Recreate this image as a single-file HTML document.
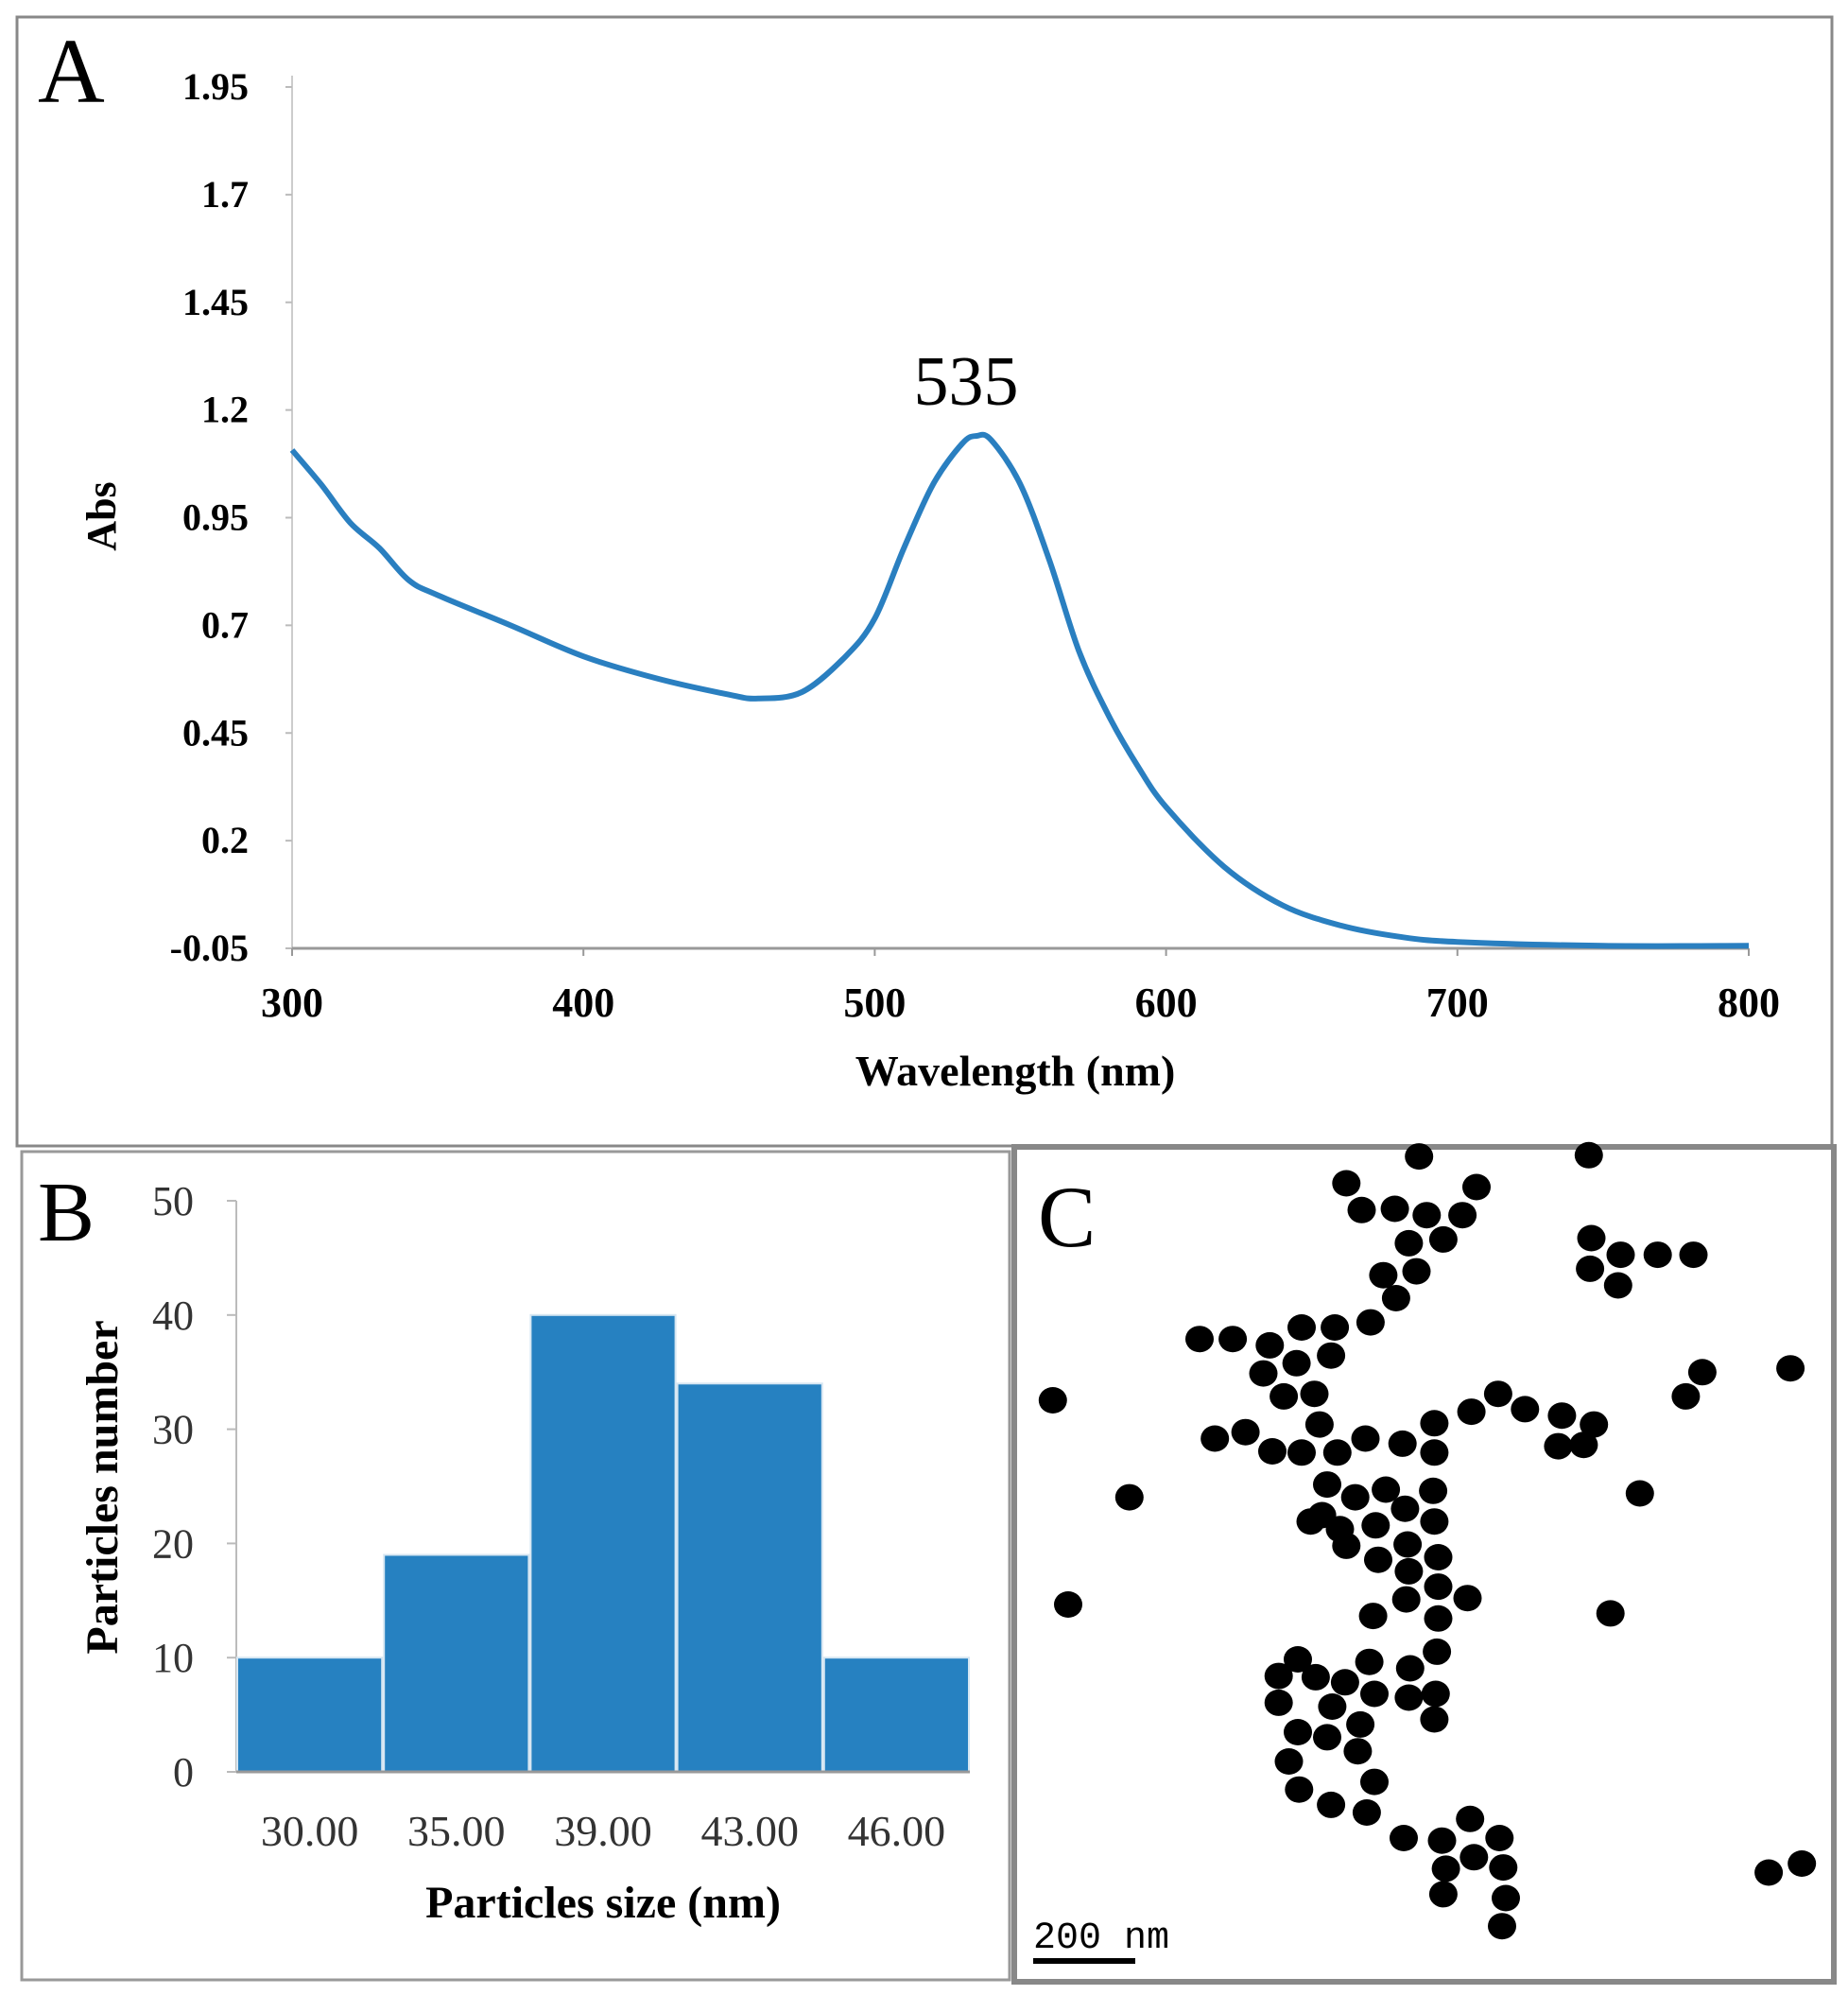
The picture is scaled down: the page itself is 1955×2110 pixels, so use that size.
<!DOCTYPE html>
<html><head><meta charset="utf-8"><style>
html,body{margin:0;padding:0;background:#fff}
svg{display:block}
text{font-family:"Liberation Serif",serif}
</style></head><body>
<svg id="fig" width="1955" height="2110" viewBox="0 0 1955 2110">
<rect x="18" y="18" width="1920" height="1194" fill="none" stroke="#888" stroke-width="3"/>
<rect x="23" y="1218" width="1045" height="876" fill="none" stroke="#999" stroke-width="3"/>
<g id="gA"></g>
<g id="gB"></g>
<g id="gC"></g>
<text x="40" y="108" font-size="98">A</text>
<text x="40" y="1312" font-size="90">B</text>
<text x="1098" y="1318" font-size="92">C</text>
</svg>
<script>
const NS="http://www.w3.org/2000/svg";
function mk(p,tag,at,txt){const e=document.createElementNS(NS,tag);for(const k in at)e.setAttribute(k,at[k]);if(txt!==undefined)e.textContent=txt;p.appendChild(e);return e;}

// Panel A data
const wavelengths=[300,310,320,330,340,350,375,400,425,450,460,475,490,500,510,520,530,535,540,550,560,570,580,590,600,620,640,660,680,700,750,800];
const absValues=[1.107,1.027,0.938,0.879,0.805,0.77,0.70,0.628,0.577,0.539,0.53,0.545,0.628,0.716,0.879,1.027,1.122,1.14,1.13,1.027,0.85,0.642,0.494,0.376,0.278,0.139,0.05,0.003,-0.023,-0.035,-0.044,-0.044];
const aYTicks=["1.95","1.7","1.45","1.2","0.95","0.7","0.45","0.2","-0.05"];
const aXTicks=[300,400,500,600,700,800];

// Panel B data
const sizeCats=["30.00","35.00","39.00","43.00","46.00"];
const particleCounts=[10,19,40,34,10];
const bYTicks=[0,10,20,30,40,50];

// Panel C particle positions (image content)
const dots=[[1112,906],[1245,905],[1055,927],[1157,930],[1067,948],[1093,947],[1118,952],[1146,952],[1104,974],[1131,971],[1084,999],[1110,996],[1247,970],[1270,983],[1299,983],[1327,983],[1246,994],[1268,1007],[1094,1017],[1074,1036],[940,1049],[966,1049],[995,1054],[1020,1040],[1046,1040],[1016,1068],[1043,1062],[990,1076],[1006,1094],[1030,1092],[825,1097],[1334,1075],[1321,1094],[1403,1072],[1174,1092],[1153,1106],[1195,1104],[1224,1109],[1249,1116],[1221,1133],[1241,1132],[1124,1115],[1034,1116],[952,1127],[976,1122],[997,1137],[1020,1138],[1048,1138],[1070,1127],[1099,1131],[1124,1138],[1040,1163],[1062,1173],[1086,1167],[1123,1168],[885,1173],[1285,1170],[1036,1187],[1027,1192],[1050,1198],[1078,1195],[1101,1182],[1124,1192],[1055,1211],[1080,1222],[1103,1210],[1127,1220],[1104,1231],[1127,1243],[1102,1253],[1150,1252],[1076,1266],[1127,1268],[837,1257],[1262,1264],[1126,1294],[1073,1302],[1105,1307],[1017,1300],[1002,1313],[1031,1314],[1054,1318],[1077,1327],[1104,1330],[1125,1327],[1002,1334],[1044,1337],[1066,1351],[1124,1347],[1017,1357],[1040,1361],[1064,1372],[1010,1380],[1077,1396],[1018,1402],[1043,1414],[1071,1420],[1100,1440],[1152,1425],[1130,1442],[1175,1440],[1155,1455],[1178,1463],[1133,1464],[1131,1484],[1180,1487],[1177,1509],[1386,1467],[1412,1460]];

// ---- Panel A ----
const gA=document.getElementById('gA');
const ax0=309,ax1=1850,ay0=1003,ay1=92;
const xA=v=>ax0+(v-300)/500*(ax1-ax0);
const yA=v=>ay0-(v+0.05)/2.0*(ay0-ay1);
const yaxA=mk(gA,'line',{x1:ax0,y1:ay1-12,x2:ax0,y2:ay0,stroke:'#ccc','stroke-width':2});

const xaxA=mk(gA,'line',{x1:ax0,y1:ay0,x2:ax1,y2:ay0,stroke:'#999','stroke-width':3});

aYTicks.forEach(t=>{const v=parseFloat(t),y=yA(v);
 mk(gA,'line',{x1:ax0-7,y1:y,x2:ax0,y2:y,stroke:'#bbb','stroke-width':2});
 const e=mk(gA,'text',{x:263,y:y+13,'font-size':40,'font-weight':'bold','text-anchor':'end'},t);
 });
aXTicks.forEach(t=>{const x=xA(t);
 mk(gA,'line',{x1:x,y1:ay0,x2:x,y2:ay0+8,stroke:'#999','stroke-width':2});
 const e=mk(gA,'text',{x:x,y:1075,'font-size':44,'font-weight':'bold','text-anchor':'middle'},t);
 });
const pts=wavelengths.map((w,i)=>[xA(w),yA(absValues[i])]);
let d='M'+pts[0][0].toFixed(1)+','+pts[0][1].toFixed(1);
for(let i=0;i<pts.length-1;i++){
 const p0=pts[Math.max(0,i-1)],p1=pts[i],p2=pts[i+1],p3=pts[Math.min(pts.length-1,i+2)];
 const c1=[p1[0]+(p2[0]-p0[0])/6,p1[1]+(p2[1]-p0[1])/6];
 const c2=[p2[0]-(p3[0]-p1[0])/6,p2[1]-(p3[1]-p1[1])/6];
 d+='C'+c1[0].toFixed(1)+','+c1[1].toFixed(1)+' '+c2[0].toFixed(1)+','+c2[1].toFixed(1)+' '+p2[0].toFixed(1)+','+p2[1].toFixed(1);
}
const ln=mk(gA,'path',{d:d,fill:'none',stroke:'#2a7fc0','stroke-width':6,'stroke-linejoin':'round'});

let e=mk(gA,'text',{x:1074,y:1148,'font-size':46,'font-weight':'bold','text-anchor':'middle'},'Wavelength (nm)');

e=mk(gA,'text',{x:122,y:546,'font-size':44,'font-weight':'bold','text-anchor':'middle',transform:'rotate(-90 122 546)'},'Abs');

e=mk(gA,'text',{x:1022,y:428,'font-size':74,'text-anchor':'middle'},'535');


// ---- Panel B ----
const gB=document.getElementById('gB');
const bx0=250,bx1=1026,by0=1874,by1=1270;
const yB=v=>by0-v/50*(by0-by1);
const bw=(bx1-bx0)/sizeCats.length;
mk(gB,'line',{x1:bx0,y1:by1,x2:bx0,y2:by0,stroke:'#bbb','stroke-width':2});
bYTicks.forEach(t=>{const y=yB(t);
 mk(gB,'line',{x1:bx0-10,y1:y,x2:bx0,y2:y,stroke:'#bbb','stroke-width':2});
 const e=mk(gB,'text',{x:205,y:y+15,'font-size':44,'fill':'#333','text-anchor':'end'},t);
 });
sizeCats.forEach((c,i)=>{const x=bx0+i*bw,y=yB(particleCounts[i]);
 const r=mk(gB,'rect',{x:x+1,y:y,width:bw-2,height:by0-y,fill:'#2681c1',stroke:'#d6e6f2','stroke-width':2});
 
 const t=mk(gB,'text',{x:x+bw/2,y:1952,'font-size':46,'fill':'#333','text-anchor':'middle'},c);
 });
mk(gB,'line',{x1:bx0,y1:by0,x2:bx1,y2:by0,stroke:'#999','stroke-width':3});
e=mk(gB,'text',{x:638,y:2028,'font-size':48,'font-weight':'bold','text-anchor':'middle'},'Particles size (nm)');

e=mk(gB,'text',{x:124,y:1573,'font-size':48,'font-weight':'bold','text-anchor':'middle',transform:'rotate(-90 124 1573)'},'Particles number');


// ---- Panel C ----
const gC=document.getElementById('gC');
const s=1.35;
const cb=mk(gC,'rect',{x:1073,y:1213,width:867,height:883,fill:'#fff',stroke:'#888','stroke-width':6});

dots.forEach(p=>{const c=mk(gC,'ellipse',{cx:(p[0]*s).toFixed(1),cy:(p[1]*s).toFixed(1),rx:15,ry:14,fill:'#000'});
 });
e=mk(gC,'text',{x:1093,y:2060,'font-size':40,style:'font-family:"Liberation Mono",monospace'},'200 nm');

e=mk(gC,'rect',{x:1093,y:2071,width:108,height:6,fill:'#000'});

</script>
</body></html>
